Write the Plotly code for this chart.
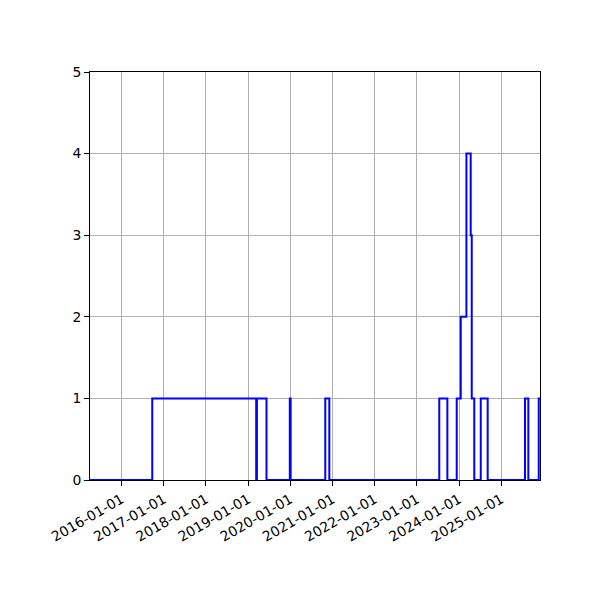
import plotly.graph_objects as go

# step changes of the count over time (value holds until next date)
change_dates = [
    "2015-04-03", "2016-09-23", "2019-03-12", "2019-03-18", "2019-06-09",
    "2019-12-28", "2020-01-04", "2020-10-30", "2020-12-04", "2023-07-14",
    "2023-09-22", "2023-12-12", "2024-01-16", "2024-03-05", "2024-04-11",
    "2024-04-20", "2024-05-12", "2024-07-07", "2024-09-05", "2025-07-25",
    "2025-08-23", "2025-11-21", "2025-12-02",
]
counts = [0, 1, 0, 1, 0, 1, 0, 1, 0, 1, 0, 1, 2, 4, 3, 1, 0, 1, 0, 1, 0, 1, 1]

tick_dates = [f"{y}-01-01" for y in range(2016, 2026)]
y_ticks = [0, 1, 2, 3, 4, 5]

fig = go.Figure()
fig.add_scatter(
    x=change_dates,
    y=counts,
    mode="lines",
    line=dict(shape="hv", color="#0000ff", width=2),
    showlegend=False,
)

font = dict(family="DejaVu Sans", size=13.9, color="black")

# page body has an 8px margin, so shift the plot area back
fig.update_layout(
    width=600,
    height=600,
    margin=dict(l=82, r=68, t=64, b=128),
    plot_bgcolor="white",
    paper_bgcolor="white",
    font=font,
)

fig.update_xaxes(
    type="date",
    range=[change_dates[0], change_dates[-1]],
    tickvals=tick_dates,
    ticktext=tick_dates,
    tickangle=-30,
    showgrid=True,
    gridcolor="#b0b0b0",
    gridwidth=1,
    showline=True,
    mirror=True,
    linecolor="black",
    linewidth=1,
    ticks="outside",
    ticklen=5,
    tickcolor="black",
    zeroline=False,
)
fig.update_yaxes(
    range=[0, 5],
    tickvals=y_ticks,
    showgrid=True,
    gridcolor="#b0b0b0",
    gridwidth=1,
    showline=True,
    mirror=True,
    linecolor="black",
    linewidth=1,
    ticks="outside",
    ticklen=5,
    tickcolor="black",
    zeroline=False,
)

fig.write_html("out.html")
